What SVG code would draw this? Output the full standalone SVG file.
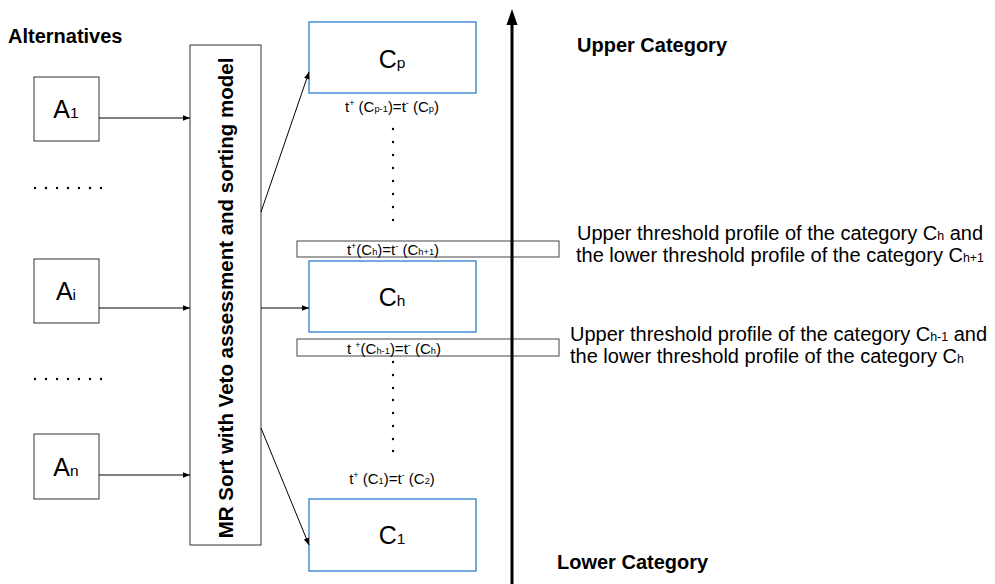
<svg xmlns="http://www.w3.org/2000/svg" width="995" height="584" viewBox="0 0 995 584">
  <style>
    text { font-family: "Liberation Sans", Arial, sans-serif; fill: #000; }
    .bold { font-weight: bold; font-size: 20px; }
    .alt { fill: #fff; stroke: #333; stroke-width: 1; }
    .cat { fill: #fff; stroke: #2a7fd0; stroke-width: 1.3; }
    .thr { fill: #fff; stroke: #444; stroke-width: 1; }
    .big { font-size: 25px; }
    .lbl { font-size: 15px; }
    .note { font-size: 20px; }
    .sub { font-size: 0.62em; }
    .sup { font-size: 0.6em; }
    .conn { stroke: #000; stroke-width: 1; fill: none; marker-end: url(#arr); }
    .dot { fill: #000; }
  </style>
  <defs>
    <marker id="arr" viewBox="0 0 10 10" refX="10" refY="5" markerWidth="10" markerHeight="7" markerUnits="userSpaceOnUse" orient="auto">
      <path d="M0,1 L10,5 L0,9 z" fill="#000"/>
    </marker>
  </defs>

  <text class="bold" x="8" y="43">Alternatives</text>

  <!-- alternatives -->
  <g id="a1">
    <rect class="alt" x="34" y="77" width="65" height="64"/>
    <text class="big" x="66" y="118" text-anchor="middle">A<tspan class="sub">1</tspan></text>
  </g>
  <g id="ai">
    <rect class="alt" x="34" y="259" width="65" height="64"/>
    <text class="big" x="66" y="300" text-anchor="middle">A<tspan class="sub">i</tspan></text>
  </g>
  <g id="an">
    <rect class="alt" x="34" y="434" width="65" height="65"/>
    <text class="big" x="66" y="476" text-anchor="middle">A<tspan class="sub">n</tspan></text>
  </g>
  <g id="altDots">
    <circle class="dot" cx="35" cy="188" r="1.2"/><circle class="dot" cx="46" cy="188" r="1.2"/><circle class="dot" cx="57" cy="188" r="1.2"/><circle class="dot" cx="68" cy="188" r="1.2"/><circle class="dot" cx="79" cy="188" r="1.2"/><circle class="dot" cx="90" cy="188" r="1.2"/><circle class="dot" cx="101" cy="188" r="1.2"/>
    <circle class="dot" cx="35" cy="379" r="1.2"/><circle class="dot" cx="46" cy="379" r="1.2"/><circle class="dot" cx="57" cy="379" r="1.2"/><circle class="dot" cx="68" cy="379" r="1.2"/><circle class="dot" cx="79" cy="379" r="1.2"/><circle class="dot" cx="90" cy="379" r="1.2"/><circle class="dot" cx="101" cy="379" r="1.2"/>
  </g>

  <!-- sorting model -->
  <g id="model">
    <rect class="alt" x="190" y="45" width="71" height="500"/>
    <text class="bold" transform="translate(233,298) rotate(-90)" text-anchor="middle" style="font-size:20.5px">MR Sort with Veto assessment and sorting model</text>
  </g>

  <!-- categories -->
  <g id="cp">
    <rect class="cat" x="309" y="22" width="167" height="71"/>
    <text class="big" x="392" y="68" text-anchor="middle">C<tspan class="sub">p</tspan></text>
  </g>
  <g id="ch">
    <rect class="cat" x="309" y="261" width="167" height="71"/>
    <text class="big" x="392" y="306" text-anchor="middle">C<tspan class="sub">h</tspan></text>
  </g>
  <g id="c1">
    <rect class="cat" x="309" y="499" width="167" height="72"/>
    <text class="big" x="392" y="544" text-anchor="middle">C<tspan class="sub">1</tspan></text>
  </g>

  <!-- threshold profiles -->
  <g id="tp">
    <text class="lbl" x="392" y="112" text-anchor="middle">t<tspan class="sup" dy="-6">+</tspan><tspan dy="6"> (C</tspan><tspan class="sub">p-1</tspan>)=t<tspan class="sup" dy="-6">-</tspan><tspan dy="6"> (C</tspan><tspan class="sub">p</tspan>)</text>
  </g>
  <g id="th">
    <rect class="thr" x="297" y="241" width="262" height="16"/>
    <text class="lbl" x="393" y="255" text-anchor="middle">t<tspan class="sup" dy="-6">+</tspan><tspan dy="6">(C</tspan><tspan class="sub">h</tspan>)=t<tspan class="sup" dy="-6">-</tspan><tspan dy="6"> (C</tspan><tspan class="sub">h+1</tspan>)</text>
  </g>
  <g id="thm1">
    <rect class="thr" x="297" y="339" width="262" height="17"/>
    <text class="lbl" x="394" y="354" text-anchor="middle">t <tspan class="sup" dy="-6">+</tspan><tspan dy="6">(C</tspan><tspan class="sub">h-1</tspan>)=t<tspan class="sup" dy="-6">-</tspan><tspan dy="6"> (C</tspan><tspan class="sub">h</tspan>)</text>
  </g>
  <g id="t1">
    <text class="lbl" x="392" y="484" text-anchor="middle">t<tspan class="sup" dy="-6">+</tspan><tspan dy="6"> (C</tspan><tspan class="sub">1</tspan>)=t<tspan class="sup" dy="-6">-</tspan><tspan dy="6"> (C</tspan><tspan class="sub">2</tspan>)</text>
  </g>

  <g id="catDots">
    <circle class="dot" cx="393" cy="129" r="1.2"/><circle class="dot" cx="393" cy="142" r="1.2"/><circle class="dot" cx="393" cy="155" r="1.2"/><circle class="dot" cx="393" cy="168" r="1.2"/><circle class="dot" cx="393" cy="181" r="1.2"/><circle class="dot" cx="393" cy="194" r="1.2"/><circle class="dot" cx="393" cy="207" r="1.2"/><circle class="dot" cx="393" cy="220" r="1.2"/>
    <circle class="dot" cx="393" cy="362" r="1.2"/><circle class="dot" cx="393" cy="375" r="1.2"/><circle class="dot" cx="393" cy="388" r="1.2"/><circle class="dot" cx="393" cy="400" r="1.2"/><circle class="dot" cx="393" cy="413" r="1.2"/><circle class="dot" cx="393" cy="426" r="1.2"/><circle class="dot" cx="393" cy="439" r="1.2"/><circle class="dot" cx="393" cy="451" r="1.2"/>
  </g>

  <!-- category axis -->
  <g id="axis">
    <line x1="512" y1="584" x2="512" y2="22" stroke="#000" stroke-width="3"/>
    <polygon points="512,9 517.5,25 506.5,25" fill="#000"/>
    <text class="bold" x="577" y="52">Upper Category</text>
    <text class="bold" x="557" y="569">Lower Category</text>
  </g>

  <g id="notes">
    <text class="note" x="577" y="240">Upper threshold profile of the category C<tspan class="sub">h</tspan> and</text>
    <text class="note" x="576" y="262">the lower threshold profile of the category C<tspan class="sub">h+1</tspan></text>
    <text class="note" x="570" y="341">Upper threshold profile of the category C<tspan class="sub">h-1</tspan> and</text>
    <text class="note" x="570" y="363">the lower threshold profile of the category C<tspan class="sub">h</tspan></text>
  </g>

  <!-- connectors -->
  <g id="connectors">
    <line class="conn" x1="99" y1="118" x2="190" y2="118"/>
    <line class="conn" x1="99" y1="308" x2="190" y2="308"/>
    <line class="conn" x1="99" y1="475" x2="190" y2="475"/>
    <line class="conn" x1="261" y1="212" x2="309" y2="72"/>
    <line class="conn" x1="261" y1="308" x2="309" y2="308"/>
    <line class="conn" x1="261" y1="428" x2="309" y2="545"/>
  </g>
</svg>
